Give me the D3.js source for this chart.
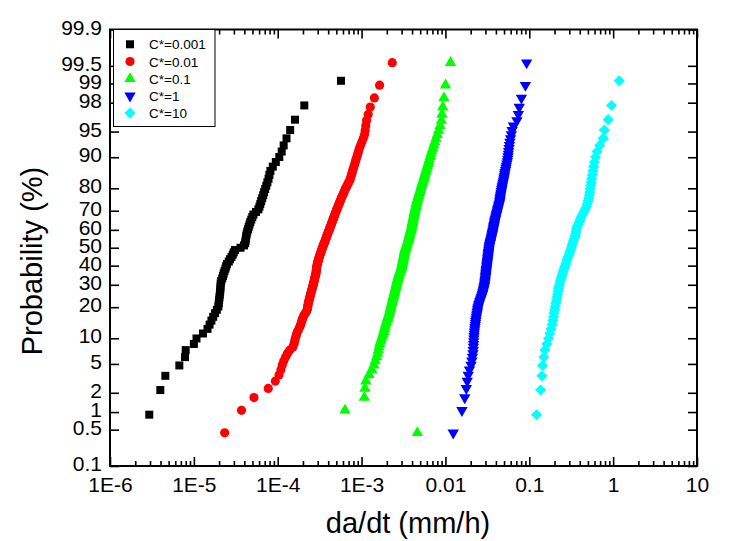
<!DOCTYPE html>
<html><head><meta charset="utf-8">
<script src="https://cdn.jsdelivr.net/npm/d3@7"></script>
<style>
body{margin:0;background:#fff}
svg{display:block}
text{font-family:"Liberation Sans",Arial,Helvetica,sans-serif;fill:#000}
</style>
</head><body>
<svg id="chart" width="747" height="541"></svg>
<script>
// ---------------- DATA ----------------
const seriesNames  = ["C*=0.001","C*=0.01","C*=0.1","C*=1","C*=10"];
const seriesColors = ["#000000","#ff0000","#00ff00","#0000ff","#00ffff"];
const seriesShapes = ["square","circle","triangleUp","triangleDown","diamond"];

// da/dt values (mm/h), listed in rank order of the probability plot
const dadtC0001 = [
2.94e-6,3.98e-6,4.57e-6,6.71e-6,7.84e-6,7.99e-6,1.00e-5,1.075e-5,1.285e-5,1.455e-5,
1.54e-5,1.62e-5,1.70e-5,1.79e-5,1.88e-5,1.96e-5,1.98e-5,2.00e-5,2.02e-5,2.04e-5,
2.06e-5,2.07e-5,2.08e-5,2.09e-5,2.12e-5,2.18e-5,2.23e-5,2.27e-5,2.32e-5,2.38e-5,
2.43e-5,2.48e-5,2.61e-5,2.70e-5,2.81e-5,2.91e-5,2.99e-5,3.10e-5,3.60e-5,3.96e-5,
4.09e-5,4.13e-5,4.17e-5,4.21e-5,4.26e-5,4.33e-5,4.42e-5,4.51e-5,4.61e-5,4.71e-5,
4.84e-5,4.98e-5,5.13e-5,5.51e-5,5.88e-5,6.05e-5,6.20e-5,6.35e-5,6.53e-5,6.71e-5,
6.88e-5,7.09e-5,7.31e-5,7.53e-5,7.77e-5,7.96e-5,8.18e-5,8.74e-5,9.49e-5,1.044e-4,
1.116e-4,1.178e-4,1.273e-4,1.408e-4,1.608e-4,2.075e-4,5.68e-4];

const dadtC001 = [
2.33e-5,3.70e-5,5.21e-5,7.71e-5,9.36e-5,1.036e-4,1.092e-4,1.132e-4,1.179e-4,1.242e-4,
1.306e-4,1.387e-4,1.510e-4,1.561e-4,1.591e-4,1.618e-4,1.649e-4,1.677e-4,1.718e-4,1.775e-4,
1.826e-4,1.867e-4,1.901e-4,1.933e-4,1.965e-4,1.998e-4,2.042e-4,2.106e-4,2.165e-4,2.223e-4,
2.260e-4,2.273e-4,2.285e-4,2.304e-4,2.323e-4,2.349e-4,2.369e-4,2.395e-4,2.421e-4,2.441e-4,
2.467e-4,2.494e-4,2.515e-4,2.544e-4,2.572e-4,2.593e-4,2.622e-4,2.644e-4,2.666e-4,2.688e-4,
2.710e-4,2.733e-4,2.755e-4,2.778e-4,2.801e-4,2.824e-4,2.848e-4,2.863e-4,2.879e-4,2.887e-4,
2.895e-4,2.911e-4,2.919e-4,2.935e-4,2.959e-4,2.975e-4,3.000e-4,3.025e-4,3.050e-4,3.076e-4,
3.111e-4,3.137e-4,3.171e-4,3.206e-4,3.242e-4,3.278e-4,3.314e-4,3.341e-4,3.375e-4,3.422e-4,
3.460e-4,3.498e-4,3.537e-4,3.576e-4,3.626e-4,3.666e-4,3.706e-4,3.747e-4,3.789e-4,3.830e-4,
3.872e-4,3.915e-4,3.970e-4,4.014e-4,4.058e-4,4.114e-4,4.160e-4,4.206e-4,4.264e-4,4.311e-4,
4.371e-4,4.420e-4,4.467e-4,4.529e-4,4.579e-4,4.643e-4,4.694e-4,4.759e-4,4.825e-4,4.878e-4,
4.946e-4,5.014e-4,5.082e-4,5.152e-4,5.224e-4,5.296e-4,5.384e-4,5.459e-4,5.550e-4,5.627e-4,
5.720e-4,5.815e-4,5.927e-4,6.033e-4,6.126e-4,6.244e-4,6.349e-4,6.509e-4,6.635e-4,6.800e-4,
6.951e-4,7.108e-4,7.288e-4,7.388e-4,7.510e-4,7.614e-4,7.735e-4,7.865e-4,7.996e-4,8.151e-4,
8.310e-4,8.448e-4,8.612e-4,8.799e-4,8.995e-4,9.196e-4,9.426e-4,9.719e-4,1.006e-3,1.048e-3,
1.086e-3,1.104e-3,1.122e-3,1.147e-3,1.199e-3,1.270e-3,1.421e-3,1.640e-3,2.323e-3];

const dadtC01 = [
4.62e-3,6.34e-4,1.077e-3,1.098e-3,1.125e-3,1.229e-3,1.323e-3,1.398e-3,1.453e-3,1.510e-3,
1.552e-3,1.582e-3,1.617e-3,1.644e-3,1.685e-3,1.722e-3,1.760e-3,1.800e-3,1.835e-3,1.865e-3,
1.896e-3,1.922e-3,1.954e-3,1.987e-3,2.020e-3,2.053e-3,2.087e-3,2.122e-3,2.151e-3,2.175e-3,
2.199e-3,2.217e-3,2.242e-3,2.267e-3,2.291e-3,2.317e-3,2.336e-3,2.362e-3,2.381e-3,2.408e-3,
2.428e-3,2.454e-3,2.475e-3,2.495e-3,2.516e-3,2.544e-3,2.565e-3,2.586e-3,2.607e-3,2.636e-3,
2.658e-3,2.680e-3,2.702e-3,2.724e-3,2.747e-3,2.777e-3,2.808e-3,2.839e-3,2.870e-3,2.902e-3,
2.934e-3,2.966e-3,3.000e-3,3.025e-3,3.041e-3,3.058e-3,3.075e-3,3.100e-3,3.117e-3,3.134e-3,
3.151e-3,3.171e-3,3.197e-3,3.215e-3,3.233e-3,3.251e-3,3.269e-3,3.296e-3,3.323e-3,3.360e-3,
3.388e-3,3.426e-3,3.455e-3,3.493e-3,3.531e-3,3.570e-3,3.600e-3,3.630e-3,3.660e-3,3.690e-3,
3.711e-3,3.741e-3,3.772e-3,3.803e-3,3.835e-3,3.866e-3,3.898e-3,3.931e-3,3.959e-3,3.981e-3,
4.003e-3,4.036e-3,4.058e-3,4.092e-3,4.114e-3,4.148e-3,4.171e-3,4.206e-3,4.229e-3,4.252e-3,
4.287e-3,4.311e-3,4.347e-3,4.383e-3,4.431e-3,4.456e-3,4.493e-3,4.529e-3,4.567e-3,4.616e-3,
4.680e-3,4.719e-3,4.771e-3,4.824e-3,4.891e-3,4.959e-3,5.014e-3,5.082e-3,5.138e-3,5.224e-3,
5.296e-3,5.370e-3,5.444e-3,5.520e-3,5.612e-3,5.705e-3,5.784e-3,5.897e-3,5.995e-3,6.094e-3,
6.212e-3,6.315e-3,6.438e-3,6.582e-3,6.710e-3,6.876e-3,7.046e-3,7.243e-3,7.467e-3,7.713e-3,
7.990e-3,8.301e-3,8.630e-3,8.946e-3,9.095e-3,9.297e-3,9.609e-3,1.004e-2,1.151e-2];

const dadtC1 = [
0.01239,0.01573,0.01699,0.01775,0.01820,0.01870,0.01933,0.02020,0.02065,0.02099,
0.02128,0.02146,0.02157,0.02169,0.02175,0.02187,0.02193,0.02205,0.02217,0.02236,
0.02248,0.02267,0.02285,0.02298,0.02317,0.02336,0.02355,0.02375,0.02394,0.02414,
0.02428,0.02448,0.02482,0.02509,0.02544,0.02579,0.02615,0.02651,0.02687,0.02732,
0.02762,0.02785,0.02816,0.02839,0.02862,0.02886,0.02910,0.02926,0.02942,0.02958,
0.02966,0.02983,0.02991,0.03008,0.03016,0.03025,0.03033,0.03050,0.03058,0.03075,
0.03084,0.03101,0.03110,0.03127,0.03136,0.03144,0.03162,0.03171,0.03188,0.03197,
0.03206,0.03224,0.03233,0.03242,0.03260,0.03269,0.03287,0.03296,0.03314,0.03323,
0.03341,0.03360,0.03388,0.03416,0.03441,0.03460,0.03493,0.03522,0.03537,0.03570,
0.03590,0.03620,0.03640,0.03660,0.03690,0.03711,0.03731,0.03762,0.03783,0.03803,
0.03835,0.03856,0.03877,0.03909,0.03941,0.03970,0.04003,0.04036,0.04081,0.04114,
0.04148,0.04183,0.04217,0.04252,0.04299,0.04335,0.04383,0.04419,0.04456,0.04468,
0.04493,0.04517,0.04554,0.04592,0.04616,0.04655,0.04693,0.04732,0.04758,0.04811,
0.04851,0.04905,0.04959,0.05000,0.05055,0.05097,0.05138,0.05209,0.05267,0.05325,
0.05399,0.05474,0.05535,0.05581,0.05627,0.05674,0.05737,0.05800,0.05880,0.05978,
0.06110,0.06245,0.06470,0.07125,0.07405,0.07590,0.08056,0.08995,0.09297];

const dadtC10 = [
0.1222,0.1364,0.1417,0.1441,0.1489,0.1535,0.1621,0.1694,0.1760,0.1815,
0.1875,0.1912,0.1949,0.1965,0.2003,0.2042,0.2076,0.2110,0.2146,0.2169,
0.2199,0.2230,0.2260,0.2304,0.2349,0.2394,0.2441,0.2495,0.2551,0.2607,
0.2665,0.2717,0.2777,0.2839,0.2894,0.2975,0.3033,0.3100,0.3171,0.3224,
0.3296,0.3360,0.3431,0.3507,0.3556,0.3620,0.3665,0.3716,0.3835,0.3941,
0.4057,0.4171,0.4321,0.4468,0.4628,0.4811,0.4905,0.5014,0.5109,0.5209,
0.5267,0.5325,0.5399,0.5474,0.5548,0.5640,0.5737,0.5845,0.5978,0.6175,
0.6438,0.6910,0.7629,0.7863,0.8726,0.9581,1.180];

const seriesValues = [dadtC0001, dadtC001, dadtC01, dadtC1, dadtC10];

const xTickValues = [1e-6,1e-5,1e-4,1e-3,1e-2,1e-1,1,10];
const xTickLabels = ["1E-6","1E-5","1E-4","1E-3","0.01","0.1","1","10"];
const yTickValues = [0.1,0.5,1,2,5,10,20,30,40,50,60,70,80,90,95,98,99,99.5,99.9];
const yTickLabels = ["0.1","0.5","1","2","5","10","20","30","40","50","60","70","80","90","95","98","99","99.5","99.9"];
const xTitle = "da/dt (mm/h)";
const yTitle = "Probability (%)";

// ---------------- HELPERS ----------------
// inverse standard normal CDF (Acklam)
function probit(p){
  const a=[-3.969683028665376e+01,2.209460984245205e+02,-2.759285104469687e+02,1.383577518672690e+02,-3.066479806614716e+01,2.506628277459239e+00];
  const b=[-5.447609879822406e+01,1.615858368580409e+02,-1.556989798598866e+02,6.680131188771972e+01,-1.328068155288572e+01];
  const c=[-7.784894002430293e-03,-3.223964580411365e-01,-2.400758277161838e+00,-2.549732539343734e+00,4.374664141464968e+00,2.938163982698783e+00];
  const d=[7.784695709041462e-03,3.224671290700398e-01,2.445134137142996e+00,3.754408661907416e+00];
  const pl=0.02425, ph=1-pl; let q,r;
  if(p<pl){q=Math.sqrt(-2*Math.log(p));return (((((c[0]*q+c[1])*q+c[2])*q+c[3])*q+c[4])*q+c[5])/((((d[0]*q+d[1])*q+d[2])*q+d[3])*q+1);}
  if(p>ph){q=Math.sqrt(-2*Math.log(1-p));return -(((((c[0]*q+c[1])*q+c[2])*q+c[3])*q+c[4])*q+c[5])/((((d[0]*q+d[1])*q+d[2])*q+d[3])*q+1);}
  q=p-0.5;r=q*q;return (((((a[0]*r+a[1])*r+a[2])*r+a[3])*r+a[4])*r+a[5])*q/(((((b[0]*r+b[1])*r+b[2])*r+b[3])*r+b[4])*r+1);
}
// median-rank plotting position (%)
const medianRank = (i,n) => (i+1-0.3)/(n+0.4)*100;

// ---------------- LAYOUT ----------------
const L=110, R=697, T=29.5, B=466;
const svg = d3.select("#chart");
svg.append("rect").attr("width",747).attr("height",541).attr("fill","#fff");

const x = d3.scaleLog().domain([1e-6,10]).range([L,R]);
const yz = d3.scaleLinear().domain([probit(0.001),probit(0.999)]).range([B,T]);
const y = p => yz(probit(p/100));

const minorX = [];
for(let e=-6;e<1;e++) for(let m=2;m<=9;m++) minorX.push(m*Math.pow(10,e));
const yTickZ = yTickValues.map(p=>probit(p/100));

function styleAxis(g){
  g.select(".domain").remove();
  g.selectAll(".tick line").attr("stroke","#000").attr("stroke-width",1.6);
  g.selectAll("text").attr("font-size",21).attr("fill","#000");
}

// bottom axis
svg.append("g").attr("transform",`translate(0,${B})`)
  .call(d3.axisBottom(x).tickValues(xTickValues).tickSizeInner(-9).tickSizeOuter(0).tickPadding(11)
     .tickFormat((d,i)=>xTickLabels[i])).call(styleAxis);
svg.append("g").attr("transform",`translate(0,${B})`)
  .call(d3.axisBottom(x).tickValues(minorX).tickSizeInner(-5).tickSizeOuter(0).tickFormat(""))
  .call(styleAxis);
// top axis
svg.append("g").attr("transform",`translate(0,${T})`)
  .call(d3.axisTop(x).tickValues(xTickValues).tickSizeInner(-9).tickSizeOuter(0).tickFormat("")).call(styleAxis);
svg.append("g").attr("transform",`translate(0,${T})`)
  .call(d3.axisTop(x).tickValues(minorX).tickSizeInner(-5).tickSizeOuter(0).tickFormat("")).call(styleAxis);
// left axis
const gl = svg.append("g").attr("transform",`translate(${L},0)`)
  .call(d3.axisLeft(yz).tickValues(yTickZ).tickSizeInner(-9).tickSizeOuter(0).tickPadding(8)
     .tickFormat((d,i)=>yTickLabels[i])).call(styleAxis);
gl.selectAll("text").attr("dy","0.22em");
// right axis
svg.append("g").attr("transform",`translate(${R},0)`)
  .call(d3.axisRight(yz).tickValues(yTickZ).tickSizeInner(-9).tickSizeOuter(0).tickFormat("")).call(styleAxis);

// frame
svg.append("rect").attr("x",L).attr("y",T).attr("width",R-L).attr("height",B-T)
  .attr("fill","none").attr("stroke","#000").attr("stroke-width",2);

// symbols
function symbolPath(shape){
  if(shape==="square") return d3.symbol(d3.symbolSquare,64)();
  if(shape==="circle") return d3.symbol(d3.symbolCircle,66)();
  if(shape==="triangleUp"||shape==="triangleDown") return d3.symbol(d3.symbolTriangle,56)();
  return d3.symbol(d3.symbolSquare,62)();
}
function symbolRot(shape){
  if(shape==="triangleDown") return 180;
  if(shape==="diamond") return 45;
  return 0;
}

// points
const plot = svg.append("g");
seriesValues.forEach((vals,si)=>{
  const n = vals.length;
  const pts = vals.map((v,i)=>({v, p:medianRank(i,n)}));
  plot.append("g").selectAll("path").data(pts).join("path")
    .attr("d",symbolPath(seriesShapes[si]))
    .attr("fill",seriesColors[si])
    .attr("transform",d=>`translate(${x(d.v)},${y(d.p)}) rotate(${symbolRot(seriesShapes[si])})`);
});

// legend
const lg = svg.append("g");
lg.append("rect").attr("x",113.5).attr("y",T).attr("width",101.5).attr("height",97)
  .attr("fill","#fff").attr("stroke","#000").attr("stroke-width",1);
seriesNames.forEach((name,si)=>{
  const cy = 44.3 + si*17.2;
  lg.append("path").attr("d",symbolPath(seriesShapes[si])).attr("fill",seriesColors[si])
    .attr("transform",`translate(130,${cy}) rotate(${symbolRot(seriesShapes[si])})`);
  lg.append("text").attr("x",149).attr("y",cy+5).attr("font-size",13.5).text(name);
});

// titles
svg.append("text").attr("x",408).attr("y",533).attr("text-anchor","middle")
  .attr("font-size",29).text(xTitle);
svg.append("text").attr("transform","translate(42,261) rotate(-90)").attr("text-anchor","middle")
  .attr("font-size",29).text(yTitle);
</script>
</body></html>
